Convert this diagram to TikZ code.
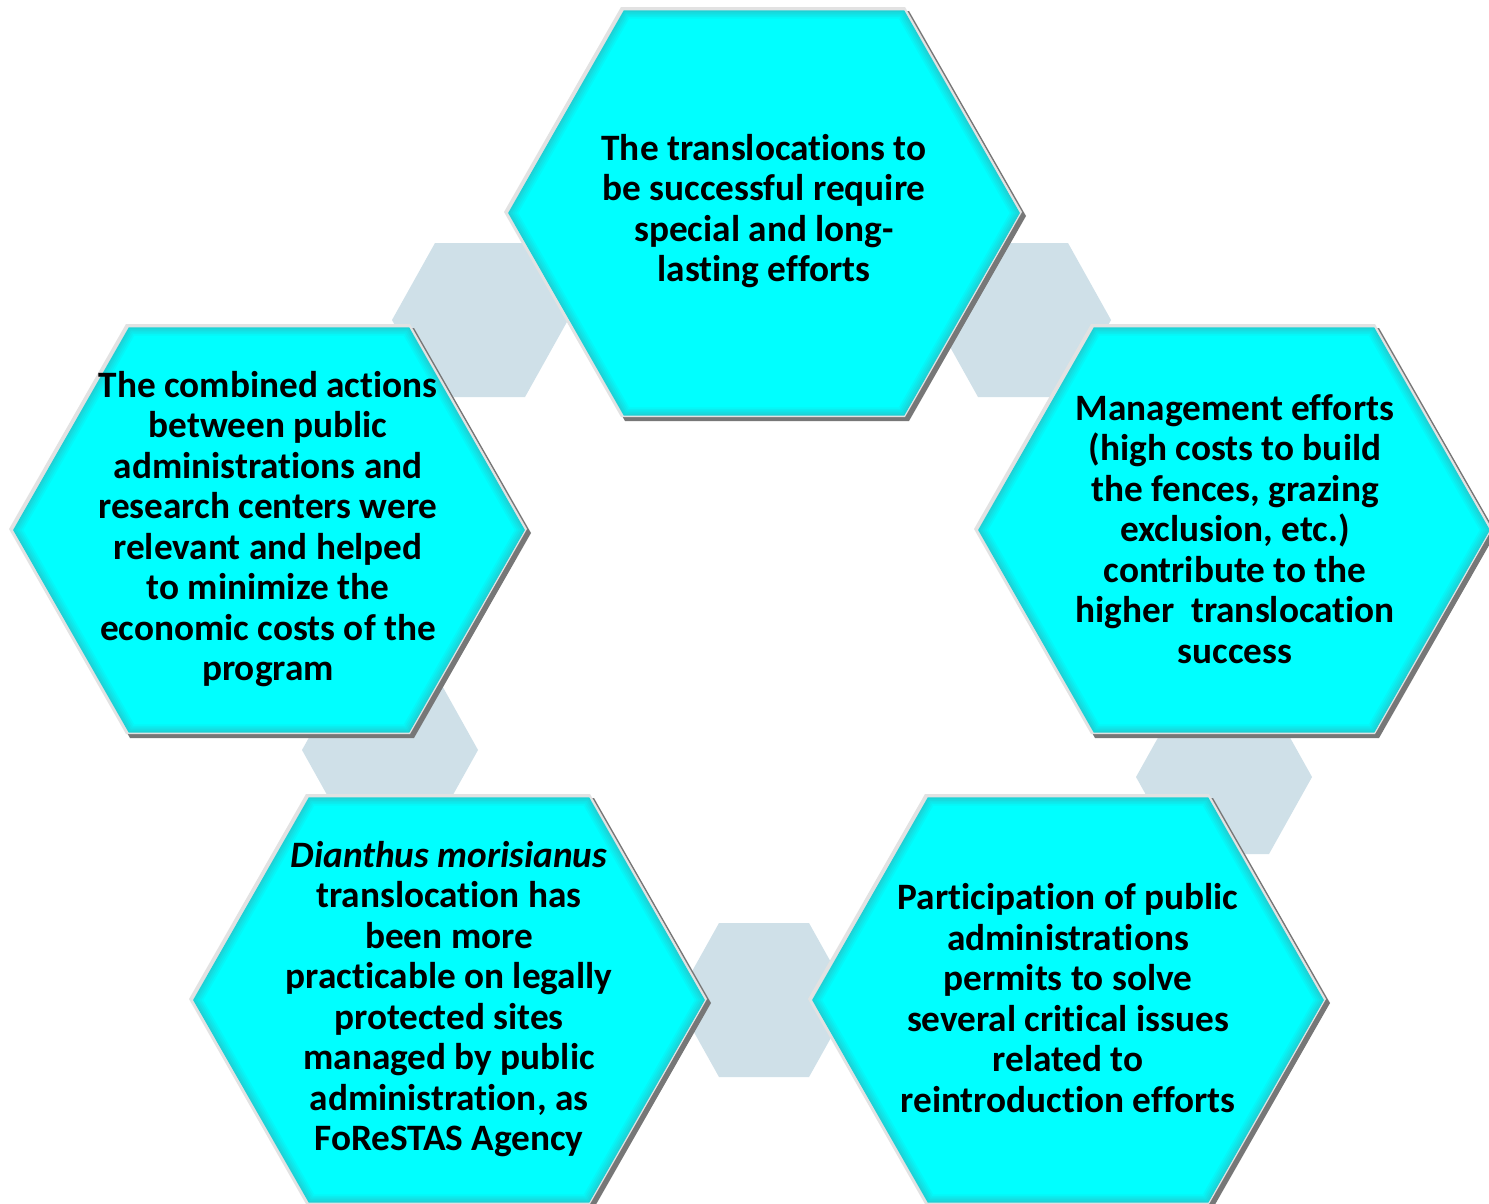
\documentclass[tikz,border=0pt]{standalone}
\usepackage{fontspec}
\setmainfont{Carlito}[Ligatures=NoCommon]
\definecolor{HexCyan}{HTML}{00FFFF}
\definecolor{HexEdge}{HTML}{1CD2D6}
\definecolor{HexRim}{HTML}{E2E2E2}
\definecolor{HexShade}{HTML}{777777}
\definecolor{LinkGrey}{HTML}{CFE0E8}

% hexagon outline around the local origin: half width, half top edge, half height
\newcommand{\hexcorners}[3]{(-#1,0) -- (-#2,-#3) -- (#2,-#3) -- (#1,0) -- (#2,#3) -- (-#2,#3) -- cycle}

% small grey hexagon behind the ring
\newcommand{\linkhex}[1]{\fill[LinkGrey, shift={#1}] \hexcorners{88}{45}{77};}

% large bevelled hexagon
\newcommand{\bighex}[1]{%
  \begin{scope}[shift={#1}]
    \fill[HexShade, shift={(3,3)}] \hexcorners{259}{142}{205};
    \fill[HexRim, shift={(-1,-1)}] \hexcorners{259}{142}{205};
    \foreach \k in {0,...,5}{
      \pgfmathsetmacro\sc{0.988-0.008*\k}
      \pgfmathtruncatemacro\mx{100-20*\k}
      \fill[HexEdge!\mx!HexCyan, scale=\sc] \hexcorners{259}{142}{205};
    }
  \end{scope}}

\begin{document}
\begin{tikzpicture}[
  x=0.01cm, y=-0.01cm,
  hextext/.style={
    align=center,
    text=black,
    inner sep=0pt,
    font=\bfseries\fontsize{10.6}{11.5}\selectfont
  }
]
\useasboundingbox (0,0) rectangle (1489,1203);
\clip (0,0) rectangle (1489,1203);
\fill[white] (0,0) rectangle (1489,1203);

% grey links between the large hexagons
\linkhex{(480,320)}
\linkhex{(1023,320)}
\linkhex{(390,750)}
\linkhex{(764,1000)}
\linkhex{(1224,777)}

% large hexagons
\bighex{(764,213)}
\bighex{(269,530)}
\bighex{(1234,530)}
\bighex{(449,1000)}
\bighex{(1068,1000)}

% texts
\node[hextext] (translocation) at (764,211)
  {The translocations to\\be successful require\\special and long-\\lasting efforts};
\node[hextext] (combined) at (268,529)
  {The combined actions\\between public\\administrations and\\research centers were\\relevant and helped\\to minimize the\\economic costs of the\\program};
\node[hextext] (management) at (1235,529)
  {Management efforts\\(high costs to build\\the fences, grazing\\exclusion, etc.)\\contribute to the\\higher\ \ translocation\\success};
\node[hextext] (dianthus) at (449,999)
  {\textit{Dianthus morisianus}\\translocation has\\been more\\practicable on legally\\protected sites\\managed by public\\administration, as\\FoReSTAS Agency};
\node[hextext] (participation) at (1068,998)
  {Participation of public\\administrations\\permits to solve\\several critical issues\\related to\\reintroduction efforts};

\end{tikzpicture}
\end{document}
